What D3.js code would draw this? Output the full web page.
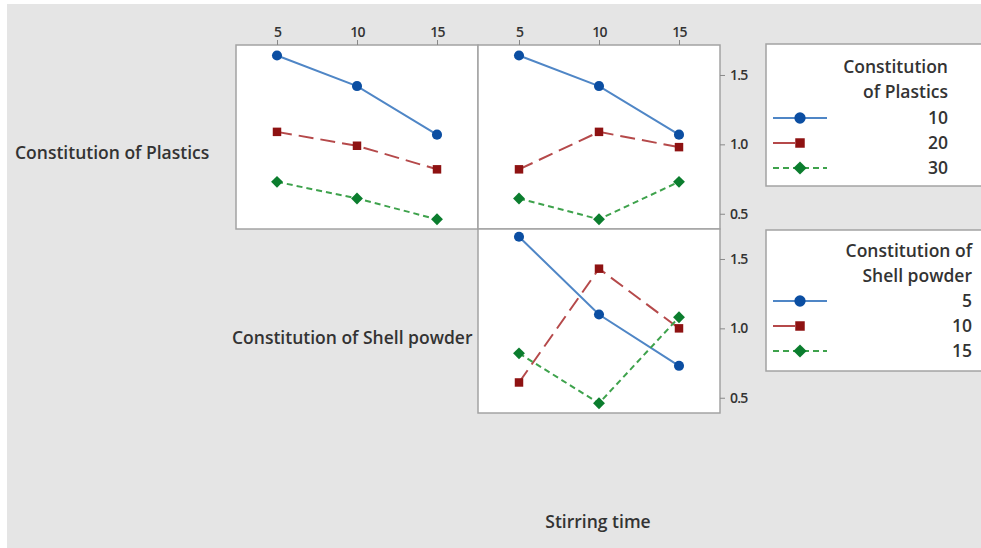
<!DOCTYPE html>
<html>
<head>
<meta charset="utf-8">
<script src="https://cdn.jsdelivr.net/npm/d3@7"></script>
<style>
  body { margin: 0; background: #fff; }
  text { font-family: "Open Sans", "Noto Sans", sans-serif; fill: #333; }
</style>
</head>
<body>
<div id="chart"></div>
<script>
// x levels shared by every panel (Shell powder / Stirring time)
const xLevels = [5, 10, 15];
const plasticLevels = ["10", "20", "30"];
const shellLevels = ["5", "10", "15"];
const yTicks = [0.5, 1.0, 1.5];

// means, one row per traced level
const plasticsByShell = [
    [1.64, 1.42, 1.07],
    [1.09, 0.99, 0.82],
    [0.73, 0.61, 0.46]
];
const plasticsByTime = [
    [1.64, 1.42, 1.07],
    [0.82, 1.09, 0.98],
    [0.61, 0.46, 0.73]
];
const shellByTime = [
    [1.66, 1.10, 0.73],
    [0.61, 1.43, 1.00],
    [0.82, 0.46, 1.08]
];

// series styles (blue circle, red square, green diamond)
let styles = [
    {line: "#4f86c6", mark: "#0b4ea2", dash: null, shape: d3.symbolCircle, size: 80, rot: 0},
    {line: "#b5494a", mark: "#8e1212", dash: "15,7", shape: d3.symbolSquare, size: 72, rot: 0},
    {line: "#3ea24c", mark: "#0b7d2e", dash: "6,4", shape: d3.symbolSquare, size: 70, rot: 45}
];

let W = 981, H = 548;
let FS = 17.5;
let svg = d3.select("#chart").append("svg")
    .attr("width", W)
    .attr("height", H);

svg.append("rect")
    .attr("x", 7).attr("y", 4)
    .attr("width", W - 7).attr("height", H - 4)
    .attr("fill", "#e5e5e5");

let panelW = 242, panelH = 184;
let x = d3.scaleLinear()
    .domain([5 - 41 / 16, 15 + 41 / 16])
    .range([0, panelW]);
let y = d3.scaleLinear()
    .domain([0.39, 1.716])
    .range([panelH, 0]);

let line = d3.line()
    .x((d, i) => x(xLevels[i]))
    .y(d => y(d));

function marker(sel, s, scale) {
    sel.attr("d", d3.symbol().type(s.shape).size(s.size * scale))
        .attr("fill", s.mark);
}

function styleTicks(ax) {
    ax.select(".domain").remove();
    ax.selectAll("line").attr("stroke", "#888");
    ax.selectAll("text").attr("font-size", 14).attr("fill", "#333")
        .attr("font-weight", 600).attr("letter-spacing", -0.8);
}

function drawPanel(left, top, data, opts) {
    let g = svg.append("g")
        .attr("transform", "translate(" + left + "," + top + ")");

    g.append("rect")
        .attr("width", panelW).attr("height", panelH)
        .attr("fill", "#fff")
        .attr("stroke", "#a3a3a3")
        .attr("stroke-width", 1.5);

    if (opts.topAxis) {
        g.append("g")
            .call(d3.axisTop(x).tickValues(xLevels).tickSize(5).tickPadding(3))
            .call(styleTicks);
    }
    if (opts.rightAxis) {
        g.append("g")
            .attr("transform", "translate(" + panelW + ",0)")
            .call(d3.axisRight(y).tickValues(yTicks).tickFormat(d3.format(".1f"))
                .tickSize(5).tickPadding(5))
            .call(styleTicks);
    }

    data.forEach((row, k) => {
        let s = styles[k];
        g.append("path")
            .datum(row)
            .attr("d", line)
            .attr("fill", "none")
            .attr("stroke", s.line)
            .attr("stroke-width", 2)
            .attr("stroke-dasharray", s.dash);
        g.selectAll(".m" + k)
            .data(row)
            .enter().append("path")
            .attr("transform", (d, i) => "translate(" + x(xLevels[i]) + "," + y(d) + ") rotate(" + s.rot + ")")
            .call(marker, s, 1);
    });
}

drawPanel(236, 45, plasticsByShell, {topAxis: true});
drawPanel(478, 45, plasticsByTime, {topAxis: true, rightAxis: true});
drawPanel(478, 229, shellByTime, {rightAxis: true});

// row / column labels
svg.append("text")
    .attr("x", 15).attr("y", 159)
    .attr("font-size", FS).attr("font-weight", 600)
    .text("Constitution of Plastics");
svg.append("text")
    .attr("x", 232).attr("y", 344)
    .attr("font-size", FS).attr("font-weight", 600)
    .text("Constitution of Shell powder");
svg.append("text")
    .attr("x", 598).attr("y", 528)
    .attr("text-anchor", "middle")
    .attr("font-size", FS).attr("font-weight", 600)
    .text("Stirring time");

function drawLegend(top, height, textRight, title, labels, rowY) {
    let g = svg.append("g");
    g.append("rect")
        .attr("x", 766).attr("y", top)
        .attr("width", 230).attr("height", height)
        .attr("fill", "#fff")
        .attr("stroke", "#a3a3a3")
        .attr("stroke-width", 1.5);
    title.forEach((t, i) => {
        g.append("text")
            .attr("x", textRight).attr("y", rowY[i] + 6)
            .attr("text-anchor", "end")
            .attr("font-size", FS).attr("font-weight", 600)
            .text(t);
    });
    labels.forEach((lab, k) => {
        let s = styles[k];
        let yy = rowY[k + 2];
        g.append("line")
            .attr("x1", 773).attr("x2", 827)
            .attr("y1", yy).attr("y2", yy)
            .attr("stroke", s.line)
            .attr("stroke-width", 2)
            .attr("stroke-dasharray", s.dash ? (k === 1 ? "22,6,2,30" : "6,4") : null);
        g.append("path")
            .attr("transform", "translate(800," + yy + ") rotate(" + s.rot + ")")
            .call(marker, s, 1.25);
        g.append("text")
            .attr("x", textRight).attr("y", yy + 6)
            .attr("text-anchor", "end")
            .attr("font-size", FS).attr("font-weight", 600)
            .text(lab);
    });
}

drawLegend(44, 142, 948, ["Constitution", "of Plastics"], plasticLevels, [67, 92, 118, 143, 168]);
drawLegend(230, 141, 972, ["Constitution of", "Shell powder"], shellLevels, [251, 276, 301, 326, 351]);
</script>
</body>
</html>
